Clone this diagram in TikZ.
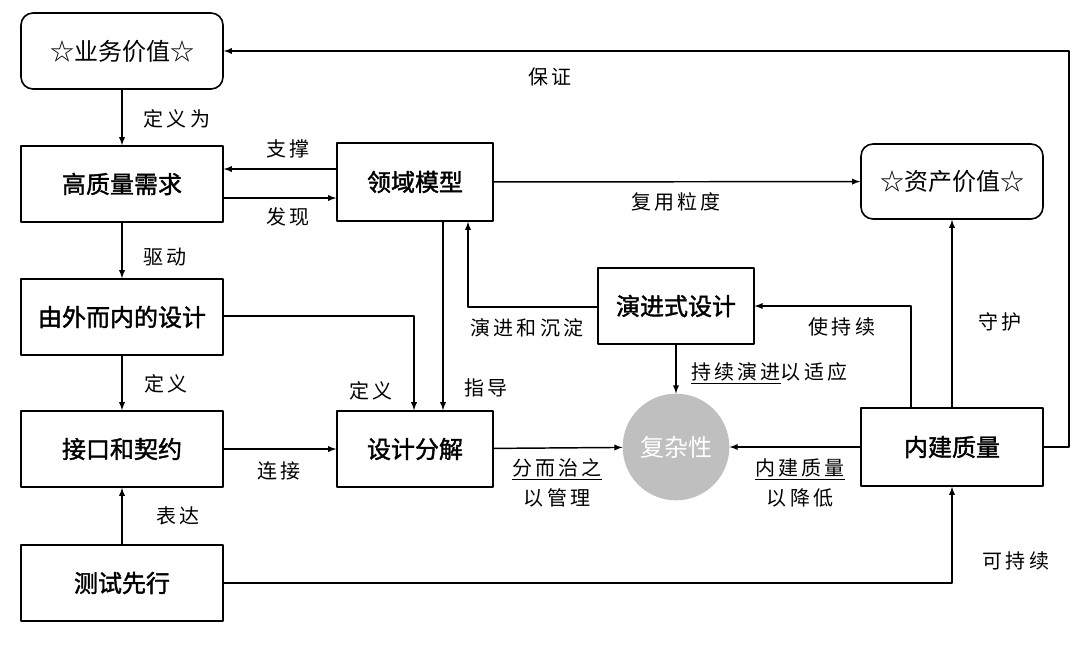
\documentclass[tikz,border=0pt]{standalone}
\usepackage{fontspec}
\usetikzlibrary{arrows, positioning}
\newfontfamily\cjk{Noto Sans CJK SC}
\newfontfamily\cjkbox[FakeBold=1.6]{Noto Sans CJK SC}
\newfontfamily\cjklbl[LetterSpace=16]{Noto Sans CJK SC}

\begin{document}
\begin{tikzpicture}[
  x=0.75pt, y=-0.75pt,
  line join=round,
  box/.style={draw, line width=1.2pt, inner sep=0pt,
    font=\cjkbox\fontsize{18}{20}\selectfont},
  valuebox/.style={box, rounded corners=9pt,
    font=\cjk\fontsize{18}{20}\selectfont},
  colbox/.style={minimum width=151.5pt, minimum height=57pt},
  lbl/.style={inner sep=0pt, align=center,
    font=\cjklbl\fontsize{15}{22.5}\selectfont},
  link/.style={-latex, line width=1.1pt}
]
  \useasboundingbox (0,0) rectangle (1080,644);

  % Left column
  \node[valuebox, colbox] (biz) at (122,51) {☆业务价值☆};
  \node[box, colbox] (req) at (122,184) {高质量需求};
  \node[box, colbox] (outin) at (122,317) {由外而内的设计};
  \node[box, colbox] (api) at (122,449) {接口和契约};
  \node[box, colbox] (tdd) at (122,583) {测试先行};

  % Middle
  \node[box, minimum width=117pt, minimum height=58.5pt]
    (domain) at (415,182) {领域模型};
  \node[box, minimum width=117pt, minimum height=57pt]
    (decomp) at (415,449) {设计分解};
  \node[box, minimum width=116.6pt, minimum height=57pt]
    (evo) at (676,306) {演进式设计};
  \node[circle, fill=gray!50, minimum size=80pt, inner sep=0pt,
    text=white, font=\cjk\fontsize{18}{20}\selectfont]
    (cx) at (676,447) {复杂性};

  % Right column
  \node[valuebox, minimum width=136.5pt, minimum height=56.25pt]
    (asset) at (952,181.5) {☆资产价值☆};
  \node[box, minimum width=136.5pt, minimum height=58.5pt]
    (bq) at (952,447) {内建质量};

  % Left column links
  \draw[link] (biz) -- (req);
  \draw[link] (req) -- (outin);
  \draw[link] (outin) -- (api);
  \draw[link] (tdd) -- (api);
  \draw[link] (domain.west |- 0,169) -- (req.east |- 0,169);
  \draw[link] (req.east |- 0,198) -- (domain.west |- 0,198);

  % Towards design decomposition
  \draw[link] (api) -- (decomp);
  \draw[link] (outin.east |- 0,316) -| (decomp.north -| 414,0);
  \draw[link] (domain.south -| 443,0) -- (decomp.north -| 443,0);
  \draw[link] (evo.west |- 0,307) -| (domain.south -| 468,0);

  % Complexity
  \draw[link] (evo) -- (cx);
  \draw[link] (decomp) -- (cx);
  \draw[link] (bq) -- (cx);

  % Built-in quality
  \draw[link] (bq.north -| 911,0) |- (evo.east |- 0,306);
  \draw[link] (bq) -- (asset);
  \draw[link] (bq.east) -- (bq.east -| 1069,0) |- (biz.east);
  \draw[link] (domain) -- (asset);
  \draw[link] (tdd.east) -| (bq.south);

  % Labels
  \node[lbl] (l-def1) at (177,119) {定义为};
  \node[lbl] (l-sup) at (288,149) {支撑};
  \node[lbl] (l-find) at (288,217) {发现};
  \node[lbl] (l-drive) at (165,257) {驱动};
  \node[lbl] (l-def2) at (166,384) {定义};
  \node[lbl] (l-expr) at (178,516) {表达};
  \node[lbl] (l-conn) at (279,471) {连接};
  \node[lbl] (l-def3) at (371,391) {定义};
  \node[lbl] (l-guide) at (486,388) {指导};
  \node[lbl] (l-evo) at (527,328) {演进和沉淀};
  \node[lbl] (l-ensure) at (550,77) {保证};
  \node[lbl] (l-reuse) at (676,202) {复用粒度};
  \node[lbl] (l-keep) at (842,327) {使持续};
  \node[lbl] (l-guard) at (1000,322) {守护};
  \node[lbl, anchor=west] (l-adapt) at (691,373) {\underline{持续演进}以适应};
  \node[lbl] (l-divide) at (557,483) {\underline{分而治之}\\以管理};
  \node[lbl] (l-lower) at (800,483) {\underline{内建质量}\\以降低};
  \node[lbl] (l-sust) at (1016,561) {可持续};
\end{tikzpicture}
\end{document}
